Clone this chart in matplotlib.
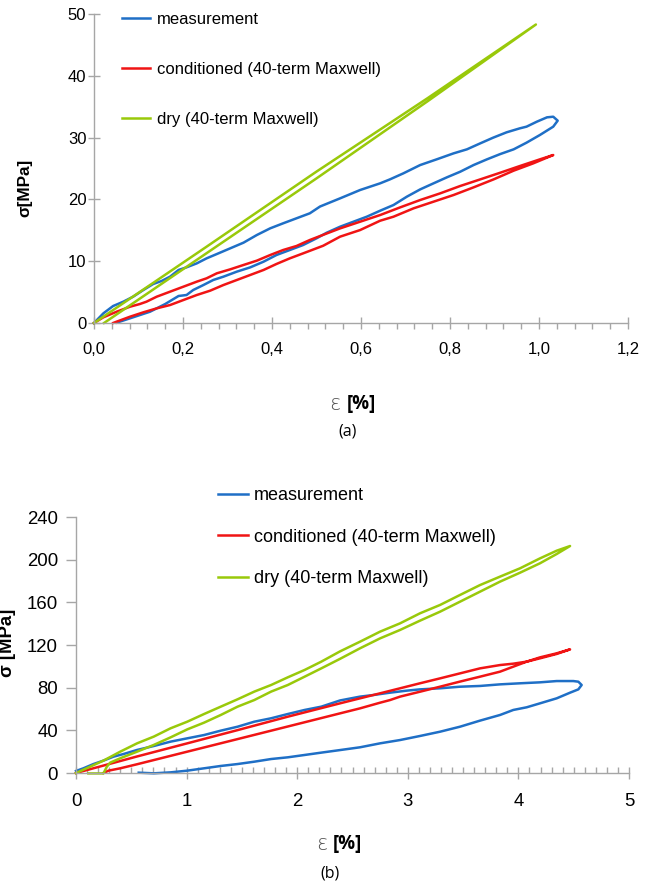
import matplotlib
matplotlib.use("Agg")
import matplotlib.pyplot as plt
from matplotlib.ticker import MultipleLocator
from matplotlib.lines import Line2D

plt.rcParams['font.family'] = ['Liberation Sans', 'DejaVu Sans']

# ---------------- data: (a) ----------------
labels = ["measurement", "conditioned (40-term Maxwell)", "dry (40-term Maxwell)"]

meas_a_strain = [0, 0.021, 0.043, 0.066, 0.088, 0.111, 0.133, 0.152, 0.171, 0.190, 0.208, 0.231,
                 0.253, 0.276, 0.306, 0.336, 0.366, 0.396, 0.425, 0.455, 0.485, 0.508, 0.553, 0.598,
                 0.643, 0.665, 0.695, 0.733, 0.770, 0.808, 0.838, 0.868, 0.897, 0.927, 0.957, 0.972,
                 0.995, 1.018, 1.032, 1.042, 1.032,
                 1.002, 0.972, 0.943, 0.913, 0.883, 0.853, 0.823, 0.793, 0.763, 0.733, 0.703, 0.673,
                 0.643, 0.613, 0.583, 0.553, 0.523, 0.500, 0.470, 0.440, 0.410, 0.381, 0.351, 0.321,
                 0.291, 0.268, 0.246, 0.223, 0.208, 0.190, 0.175, 0.160, 0.126, 0.081, 0.051]
meas_a_stress = [0, 1.56, 2.75, 3.45, 4.26, 5.34, 6.31, 6.80, 7.50, 8.58, 9.01, 9.65,
                 10.46, 11.16, 12.08, 13.0, 14.24, 15.32, 16.13, 16.94, 17.75, 18.85, 20.17, 21.52,
                 22.6, 23.24, 24.21, 25.56, 26.48, 27.45, 28.1, 29.07, 29.99, 30.85, 31.5, 31.77,
                 32.57, 33.28, 33.38, 32.74, 31.77,
                 30.42, 29.18, 28.1, 27.34, 26.48, 25.56, 24.48, 23.57, 22.6, 21.62, 20.44, 19.09,
                 18.17, 17.2, 16.39, 15.58, 14.61, 13.70, 12.62, 11.81, 11.0, 9.92, 9.0, 8.31,
                 7.50, 6.96, 6.15, 5.34, 4.53, 4.37, 3.72, 3.07, 1.83, 0.76, 0.05]

cond_a_strain = [0, 0.021, 0.051, 0.081, 0.103, 0.118, 0.141, 0.171, 0.201, 0.231, 0.253, 0.276,
                 0.306, 0.336, 0.366, 0.396, 0.425, 0.455, 0.485, 0.508, 0.553, 0.598, 0.643, 0.688,
                 0.733, 0.778, 0.823, 0.868, 0.913, 0.957, 1.002, 1.032,
                 0.987, 0.943, 0.898, 0.853, 0.808, 0.763, 0.718, 0.673, 0.643, 0.598, 0.553, 0.515,
                 0.470, 0.440, 0.410, 0.381, 0.351, 0.321, 0.291, 0.261, 0.231, 0.201, 0.171, 0.141,
                 0.111, 0.081, 0.051, 0.043]
cond_a_stress = [0, 0.92, 1.83, 2.64, 3.07, 3.45, 4.26, 5.07, 5.88, 6.69, 7.23, 8.04,
                 8.68, 9.39, 10.09, 11.0, 11.81, 12.46, 13.43, 14.07, 15.31, 16.39, 17.47, 18.71,
                 19.9, 20.98, 22.17, 23.24, 24.32, 25.4, 26.48, 27.18,
                 25.83, 24.65, 23.24, 21.95, 20.71, 19.63, 18.55, 17.2, 16.55, 15.04, 13.97, 12.5,
                 11.27, 10.46, 9.55, 8.58, 7.77, 6.96, 6.15, 5.23, 4.53, 3.72, 2.91, 2.37,
                 1.73, 1.02, 0.22, 0]

dry_a_strain = [0, 0.25, 0.5, 0.75, 0.993, 0.75, 0.5, 0.25, 0.0225]
dry_a_stress = [0, 12.2, 24.5, 36.4, 48.3, 35.9, 23.4, 11.15, 0]

xticks_a = [0.0, 0.2, 0.4, 0.6, 0.8, 1.0, 1.2]
xticklabels_a = ["0,0", "0,2", "0,4", "0,6", "0,8", "1,0", "1,2"]
yticks_a = [0, 10, 20, 30, 40, 50]

# ---------------- data: (b) ----------------
meas_b_strain = [0, 0.067, 0.158, 0.248, 0.339, 0.430, 0.552, 0.703, 0.855, 1.006, 1.158, 1.309,
                 1.461, 1.612, 1.764, 1.915, 2.067, 2.218, 2.387, 2.568, 2.688, 2.839, 2.99, 3.11,
                 3.291, 3.472, 3.653, 3.834, 4.015, 4.195, 4.346, 4.497, 4.542, 4.572, 4.542,
                 4.467, 4.346, 4.195, 4.075, 3.954, 3.834, 3.653, 3.472, 3.291, 3.11, 2.93, 2.749,
                 2.568, 2.387, 2.218, 2.067, 1.915, 1.764, 1.612, 1.461, 1.309, 1.158, 1.006, 0.855,
                 0.703, 0.567]
meas_b_stress = [1.9, 4.4, 8.4, 11.6, 15.3, 17.8, 21.6, 25.3, 29.4, 32.5, 35.6, 39.7,
                 43.4, 48.1, 51.3, 55.3, 59.1, 62.2, 68.0, 71.6, 73.1, 75.3, 77.2, 78.4,
                 79.4, 80.9, 81.6, 83.1, 84.1, 85.0, 86.2, 86.2, 85.6, 82.5, 78.4,
                 75.3, 70.0, 65.3, 61.6, 59.1, 54.4, 49.1, 43.4, 38.7, 34.7, 30.9, 27.8,
                 24.1, 21.5, 19.1, 16.9, 14.7, 13.1, 10.6, 8.4, 6.6, 4.4, 2.2, 0.6,
                 -0.3, 0.3]

cond_b_strain = [0, 0.552, 1.006, 1.461, 1.915, 2.387, 2.568, 2.749, 2.930, 3.11, 3.291, 3.472,
                 3.653, 3.834, 3.954, 4.075, 4.195, 4.346, 4.467,
                 4.346, 4.195, 4.075, 3.954, 3.834, 3.653, 3.472, 3.291, 3.11, 2.930, 2.84, 2.749,
                 2.568, 2.387, 1.915, 1.461, 1.006, 0.552, 0.4, 0.294, 0.248]
cond_b_stress = [0, 15.5, 27.8, 40.2, 52.8, 65.3, 70.0, 74.7, 79.4, 84.1, 88.7, 93.4,
                 98.1, 101.2, 102.5, 104.4, 107.5, 111.6, 115.9,
                 112.2, 108.4, 104.4, 99.7, 95.0, 90.3, 85.7, 80.9, 76.2, 71.6, 68.4, 65.9,
                 60.6, 55.9, 43.6, 31.8, 20.0, 8.2, 4.4, 2.2, 0]

dry_b_strain = [0, 0.127, 0.248, 0.4, 0.552, 0.703, 0.855, 1.006, 1.158, 1.309, 1.461, 1.612,
                1.764, 1.915, 2.067, 2.218, 2.387, 2.568, 2.749, 2.930, 3.11, 3.291, 3.472, 3.653,
                3.834, 4.015, 4.195, 4.346, 4.467,
                4.346, 4.195, 4.015, 3.834, 3.653, 3.472, 3.291, 3.11, 2.930, 2.749, 2.568, 2.387,
                2.218, 2.067, 1.915, 1.764, 1.612, 1.461, 1.309, 1.158, 1.006, 0.855, 0.703, 0.552,
                0.4, 0.309, 0.279, 0.248, 0.112]
dry_b_stress = [0, 5.9, 11.6, 20.0, 27.8, 34.1, 41.9, 48.1, 55.3, 62.2, 69.1, 76.3,
                82.5, 89.7, 96.6, 104.4, 114.0, 123.1, 132.5, 140.3, 149.7, 157.5, 166.9, 176.2,
                184.1, 191.9, 201.2, 208.4, 212.8,
                205.3, 196.6, 187.8, 179.4, 170.0, 160.6, 151.2, 142.8, 134.1, 126.2, 116.9, 107.0,
                98.1, 90.3, 82.5, 76.3, 68.4, 62.2, 54.4, 47.2, 40.9, 33.4, 26.3, 20.0,
                13.8, 9.7, 5.9, -0.4, -0.4]

xticks_b = [0, 1, 2, 3, 4, 5]
yticks_b = [0, 40, 80, 120, 160, 200, 240]

# ---------------- style ----------------
W, H = 655, 885
colors = ["#1f6fc6", "#f01414", "#99c90a"]
axis_grey = "#a6a6a6"
lw = 1.8


def fx(px):
    return px / W


def fy(py):
    return 1 - py / H


fig = plt.figure(figsize=(W / 100, H / 100), dpi=100)


def style_axes(ax, fs, xpad, ypad, minor_step, xlen, minor_dir):
    for s in ("top", "right"):
        ax.spines[s].set_visible(False)
    for s in ("left", "bottom"):
        ax.spines[s].set_color(axis_grey)
        ax.spines[s].set_linewidth(1.0)
    ax.xaxis.set_minor_locator(MultipleLocator(minor_step))
    ax.tick_params(axis="x", which="major", direction="inout", length=xlen, width=1.0,
                   color=axis_grey, labelsize=fs, pad=xpad)
    ax.tick_params(axis="x", which="minor", direction=minor_dir, length=4, width=1.0,
                   color=axis_grey)
    ax.tick_params(axis="y", which="major", direction="inout", length=8, width=1.0,
                   color=axis_grey, labelsize=fs, pad=ypad)


# ---------- panel (a) ----------
ax1 = fig.add_axes([fx(94), fy(323), fx(628) - fx(94), fy(14) - fy(323)])
ax1.plot(meas_a_strain, meas_a_stress, color=colors[0], lw=lw, clip_on=False)
ax1.plot(cond_a_strain, cond_a_stress, color=colors[1], lw=lw, clip_on=False)
ax1.plot(dry_a_strain, dry_a_stress, color=colors[2], lw=lw, clip_on=False)
ax1.set_xlim(0, 1.2)
ax1.set_ylim(0, 50)
ax1.set_xticks(xticks_a)
ax1.set_xticklabels(xticklabels_a)
ax1.set_yticks(yticks_a)
style_axes(ax1, 12, 9, 1.5, 0.04, 9, "out")

handles = [Line2D([], [], color=c, lw=lw) for c in colors]
fig.legend(handles, labels, loc="upper left", bbox_to_anchor=(fx(122), fy(12)),
           frameon=False, borderpad=0, borderaxespad=0, handlelength=1.7,
           handletextpad=0.4, labelspacing=2.1, prop={"size": 12})

fig.text(fx(25), fy(188), "σ[MPa]", rotation=90, ha="center", va="center",
         fontsize=12.3, fontweight="bold")
fig.text(fx(335), fy(404), "ε", ha="center", va="center", fontsize=15,
         color="#555555", family="DejaVu Sans", fontweight="light")
fig.text(fx(347), fy(404), "[%]", ha="left", va="center", fontsize=13.5,
         fontweight="bold", family="Open Sans")
fig.text(fx(348), fy(431), "(a)", ha="center", va="center", fontsize=11.5, family="Open Sans")

# ---------- panel (b) ----------
ax2 = fig.add_axes([fx(76), fy(773), fx(629) - fx(76), fy(517) - fy(773)])
ax2.plot(meas_b_strain, meas_b_stress, color=colors[0], lw=lw, clip_on=False)
ax2.plot(cond_b_strain, cond_b_stress, color=colors[1], lw=lw, clip_on=False)
ax2.plot(dry_b_strain, dry_b_stress, color=colors[2], lw=lw, clip_on=False)
ax2.set_xlim(0, 5)
ax2.set_ylim(0, 240)
ax2.set_xticks(xticks_b)
ax2.set_yticks(yticks_b)
style_axes(ax2, 13.4, 10, 6, 0.1, 9, "in")
ax2.tick_params(axis="y", which="major", direction="out", length=7)

fig.legend(handles, labels, loc="upper left", bbox_to_anchor=(fx(218), fy(487)),
           frameon=False, borderpad=0, borderaxespad=0, handlelength=1.65,
           handletextpad=0.35, labelspacing=1.37, prop={"size": 13})

fig.text(fx(8), fy(643), "σ [MPa]", rotation=90, ha="center", va="center",
         fontsize=13.4, fontweight="bold")
fig.text(fx(322), fy(844), "ε", ha="center", va="center", fontsize=15,
         color="#555555", family="DejaVu Sans", fontweight="light")
fig.text(fx(333), fy(844), "[%]", ha="left", va="center", fontsize=13.5,
         fontweight="bold", family="Open Sans")
fig.text(fx(330), fy(874), "(b)", ha="center", va="center", fontsize=11.5, family="Open Sans")

fig.savefig("out.png", dpi=100)
